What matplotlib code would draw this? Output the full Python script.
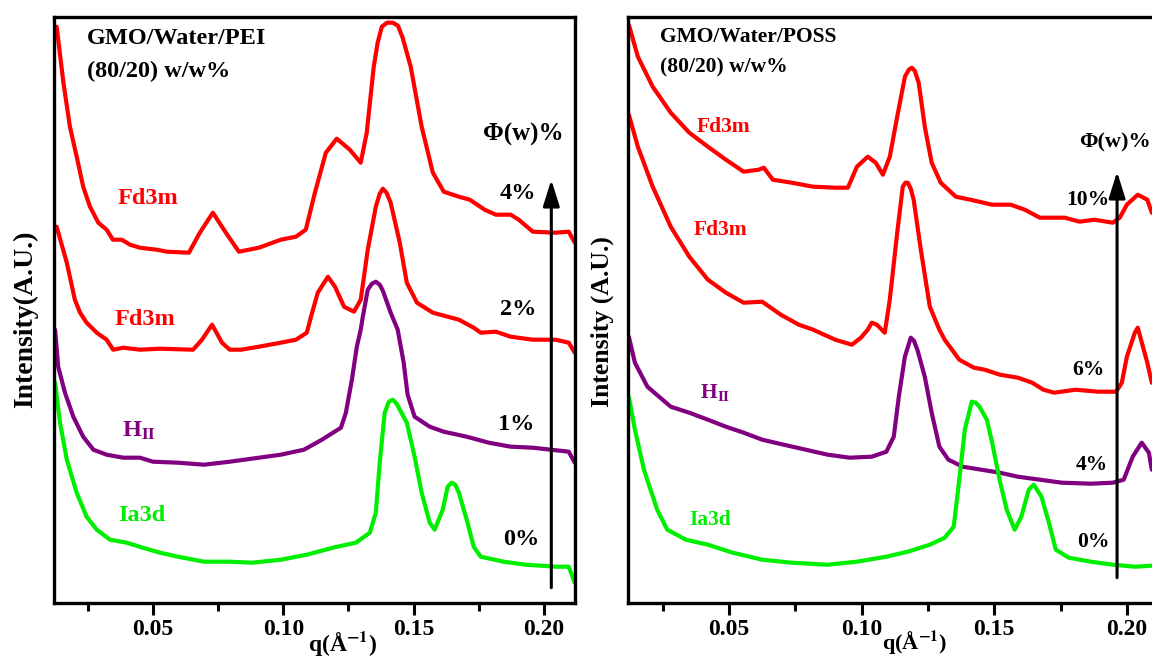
import matplotlib
matplotlib.use("Agg")
import matplotlib.pyplot as plt
from matplotlib.ticker import MultipleLocator, FormatStrFormatter

plt.rcParams["font.family"] = ["Liberation Serif", "DejaVu Serif"]
plt.rcParams["font.weight"] = "bold"
plt.rcParams["mathtext.fontset"] = "stix"

# ---------------- GMO/Water/PEI (80/20) ----------------
pei_q4 = [0.0129, 0.0155, 0.0180, 0.0206, 0.0231, 0.0257, 0.0289, 0.0321, 0.0345, 0.0379,
          0.0411, 0.0449, 0.0513, 0.0553, 0.0637, 0.0679, 0.0729, 0.0779, 0.0829, 0.0906,
          0.0990, 0.1048, 0.1086, 0.1121, 0.1163, 0.1205, 0.1255, 0.1297, 0.1320, 0.1347,
          0.1362, 0.1378, 0.1398, 0.1420, 0.1440, 0.1458, 0.1474, 0.1489, 0.1531, 0.1574,
          0.1616, 0.1674, 0.1716, 0.1773, 0.1816, 0.1873, 0.1904, 0.1958, 0.2046, 0.2096,
          0.2119]
pei_i4 = [576, 520, 476, 446, 416, 396, 380, 373, 363, 363,
          358, 355, 353, 351, 350, 370, 390, 370, 351, 355,
          363, 366, 373, 410, 450, 464, 453, 440, 470, 536,
          560, 576, 580, 580, 577, 565, 550, 536, 476, 430,
          411, 406, 403, 393, 388, 388, 383, 371, 370, 371,
          360]

pei_q2 = [0.0129, 0.0168, 0.0199, 0.0219, 0.0244, 0.0283, 0.0321, 0.0346, 0.0385, 0.0449,
          0.0526, 0.0653, 0.0687, 0.0726, 0.0764, 0.0794, 0.0837, 0.0906, 0.0990, 0.1048,
          0.1090, 0.1106, 0.1132, 0.1171, 0.1198, 0.1233, 0.1271, 0.1297, 0.1324, 0.1355,
          0.1370, 0.1382, 0.1396, 0.1412, 0.1447, 0.1474, 0.1513, 0.1574, 0.1674, 0.1731,
          0.1758, 0.1816, 0.1873, 0.1958, 0.2046, 0.2096, 0.2119]
pei_i2 = [376, 340, 303, 290, 280, 270, 263, 253, 255, 253,
          254, 253, 263, 278, 260, 253, 253, 256, 260, 263,
          270, 286, 310, 326, 316, 296, 291, 303, 353, 396,
          409, 414, 410, 400, 360, 320, 300, 290, 283, 275,
          270, 271, 266, 263, 263, 260, 250]

pei_q1 = [0.0123, 0.0135, 0.0161, 0.0193, 0.0231, 0.0270, 0.0321, 0.0385, 0.0449, 0.0499,
          0.0595, 0.0695, 0.0794, 0.0906, 0.0990, 0.1079, 0.1148, 0.1221, 0.1240, 0.1263,
          0.1282, 0.1297, 0.1305, 0.1324, 0.1340, 0.1355, 0.1370, 0.1382, 0.1412, 0.1439,
          0.1462, 0.1477, 0.1504, 0.1562, 0.1616, 0.1704, 0.1789, 0.1873, 0.1958, 0.2096,
          0.2119]
pei_i1 = [273, 236, 210, 186, 166, 153, 148, 145, 145, 141,
          140, 138, 141, 145, 148, 153, 163, 175, 190, 223,
          256, 273, 286, 313, 319, 321, 318, 312, 290, 273,
          240, 208, 186, 176, 171, 166, 160, 156, 155, 151,
          140]

pei_q0 = [0.0123, 0.0142, 0.0168, 0.0206, 0.0244, 0.0283, 0.0334, 0.0398, 0.0460, 0.0526,
          0.0595, 0.0695, 0.0794, 0.0879, 0.0990, 0.1090, 0.1190, 0.1278, 0.1332, 0.1355,
          0.1370, 0.1389, 0.1405, 0.1420, 0.1435, 0.1447, 0.1474, 0.1504, 0.1531, 0.1562,
          0.1581, 0.1612, 0.1631, 0.1646, 0.1660, 0.1674, 0.1704, 0.1731, 0.1758, 0.1846,
          0.1931, 0.2046, 0.2096, 0.2119]
pei_i0 = [220, 180, 143, 110, 86, 73, 63, 60, 55, 50,
          46, 41, 41, 40, 43, 48, 55, 60, 70, 90,
          140, 190, 201, 203, 199, 193, 180, 146, 110, 80,
          73, 93, 116, 120, 118, 110, 83, 56, 46, 41,
          38, 36, 36, 20]

# ---------------- GMO/Water/POSS (80/20) ----------------
poss_q10 = [0.0122, 0.0156, 0.0212, 0.0280, 0.0350, 0.0420, 0.0488, 0.0555, 0.0612, 0.0631,
            0.0665, 0.0736, 0.0817, 0.0900, 0.0948, 0.0982, 0.1023, 0.1053, 0.1080, 0.1106,
            0.1134, 0.1163, 0.1178, 0.1189, 0.1200, 0.1215, 0.1238, 0.1264, 0.1298, 0.1355,
            0.1410, 0.1491, 0.1562, 0.1615, 0.1672, 0.1766, 0.1822, 0.1877, 0.1947, 0.1973,
            0.2000, 0.2041, 0.2077, 0.2094]
poss_i10 = [578, 546, 516, 490, 470, 456, 443, 431, 433, 435,
            423, 420, 416, 415, 415, 436, 446, 440, 428, 446,
            486, 526, 533, 535, 532, 520, 476, 440, 420, 406,
            403, 398, 398, 393, 385, 385, 381, 383, 380, 385,
            398, 408, 403, 390]

poss_q6 = [0.0122, 0.0156, 0.0212, 0.0280, 0.0350, 0.0420, 0.0488, 0.0555, 0.0625, 0.0695,
           0.0763, 0.0817, 0.0900, 0.0963, 0.0997, 0.1023, 0.1038, 0.1057, 0.1087, 0.1106,
           0.1134, 0.1155, 0.1165, 0.1174, 0.1185, 0.1196, 0.1223, 0.1257, 0.1293, 0.1313,
           0.1368, 0.1423, 0.1464, 0.1521, 0.1589, 0.1643, 0.1685, 0.1726, 0.1807, 0.1890,
           0.1960, 0.1981, 0.2000, 0.2030, 0.2041, 0.2077, 0.2094]
poss_i6 = [488, 456, 416, 376, 346, 323, 310, 300, 301, 288,
           278, 273, 263, 258, 265, 273, 280, 278, 270, 303,
           370, 416, 420, 420, 414, 403, 353, 296, 273, 263,
           243, 235, 233, 228, 225, 220, 213, 210, 213, 211,
           211, 220, 246, 270, 275, 240, 220]

poss_q4 = [0.0122, 0.0145, 0.0192, 0.0280, 0.0350, 0.0420, 0.0488, 0.0555, 0.0625, 0.0706,
           0.0789, 0.0872, 0.0955, 0.1038, 0.1093, 0.1121, 0.1140, 0.1163, 0.1185, 0.1197,
           0.1210, 0.1238, 0.1264, 0.1293, 0.1327, 0.1381, 0.1451, 0.1521, 0.1589, 0.1672,
           0.1755, 0.1864, 0.1947, 0.1988, 0.2022, 0.2056, 0.2083, 0.2094]
poss_i4 = [266, 240, 216, 196, 190, 183, 176, 170, 163, 158,
           153, 148, 145, 146, 151, 166, 206, 246, 265, 262,
           253, 226, 190, 156, 143, 136, 133, 130, 126, 123,
           120, 119, 120, 123, 146, 160, 150, 133]

poss_q0 = [0.0122, 0.0145, 0.0179, 0.0229, 0.0267, 0.0337, 0.0420, 0.0514, 0.0625, 0.0735,
           0.0872, 0.0982, 0.1093, 0.1174, 0.1257, 0.1313, 0.1347, 0.1368, 0.1389, 0.1415,
           0.1430, 0.1444, 0.1472, 0.1492, 0.1520, 0.1547, 0.1577, 0.1602, 0.1630, 0.1649,
           0.1678, 0.1706, 0.1732, 0.1781, 0.1864, 0.1947, 0.2030, 0.2094]
poss_i0 = [206, 173, 133, 93, 73, 63, 58, 50, 43, 40,
           38, 41, 46, 51, 58, 65, 76, 123, 173, 201,
           200, 196, 183, 160, 123, 93, 73, 86, 113, 118,
           106, 80, 53, 45, 41, 38, 36, 37]

x_ticks = [0.05, 0.10, 0.15, 0.20]

RED = "#ff0000"
PURPLE = "#800080"
GREEN = "#00ee00"
LW = 3.0

W, H = 1152, 657


def box(left, top, right, bottom):
    return [left / W, 1 - bottom / H, (right - left) / W, (bottom - top) / H]


fig = plt.figure(figsize=(W / 100, H / 100), dpi=100)
ax1 = fig.add_axes(box(54.3, 16.7, 575, 602.7))
ax2 = fig.add_axes(box(628.3, 16.7, 1158.7, 602.7))

for ax in (ax1, ax2):
    ax.set_xlim(0.012, 0.212)
    ax.set_ylim(0, 586)
    ax.set_xticks(x_ticks)
    ax.xaxis.set_major_formatter(FormatStrFormatter("%.2f"))
    ax.xaxis.set_minor_locator(MultipleLocator(0.025))
    ax.set_yticks([])
    ax.tick_params(axis="x", which="major", direction="out", length=8.5,
                   width=2.2, pad=3, labelsize=17)
    ax.tick_params(axis="x", which="minor", direction="out", length=5.5,
                   width=2.2)
    for lab in ax.get_xticklabels():
        lab.set_fontweight("bold")
    for sp in ax.spines.values():
        sp.set_linewidth(2.4)

line_kw = dict(lw=LW, solid_joinstyle="round", solid_capstyle="round")

# left panel curves
ax1.plot(pei_q4, pei_i4, color=RED, **line_kw)
ax1.plot(pei_q2, pei_i2, color=RED, **line_kw)
ax1.plot(pei_q1, pei_i1, color=PURPLE, **line_kw)
ax1.plot(pei_q0, pei_i0, color=GREEN, **line_kw)

# right panel curves
ax2.plot(poss_q10, poss_i10, color=RED, **line_kw)
ax2.plot(poss_q6, poss_i6, color=RED, **line_kw)
ax2.plot(poss_q4, poss_i4, color=PURPLE, **line_kw)
ax2.plot(poss_q0, poss_i0, color=GREEN, **line_kw)

bold = dict(fontweight="bold")
arrow_kw = dict(arrowstyle="-|>,head_length=0.8,head_width=0.25",
                mutation_scale=20, color="black", lw=2.2, shrinkA=0, shrinkB=0)

# left panel annotations
ax1.text(0.0246, 564, "GMO/Water/PEI", fontsize=17.5, va="center", ha="left", **bold)
ax1.text(0.0246, 531, "(80/20) w/w%", fontsize=17.5, va="center", ha="left", **bold)
ax1.text(0.1923, 468, "\u03a6(w)%", fontsize=18, va="center", ha="center", **bold)
for q, i, s in [(0.1902, 409, "4%"), (0.1902, 293, "2%"),
                (0.1894, 178, "1%"), (0.1913, 63, "0%")]:
    ax1.text(q, i, s, fontsize=17.5, va="center", ha="center", **bold)
ax1.text(0.0364, 404, "Fd3m", color=RED, fontsize=17.5, va="center", ha="left", **bold)
ax1.text(0.0353, 283, "Fd3m", color=RED, fontsize=17.5, va="center", ha="left", **bold)
ax1.text(0.0379, 172, r"H$_{\mathbf{II}}$", color=PURPLE, fontsize=17.5,
         va="center", ha="left", **bold)
ax1.text(0.0364, 87, "Ia3d", color=GREEN, fontsize=17.5, va="center", ha="left", **bold)
ax1.annotate("", xy=(0.2029, 423), xytext=(0.2029, 15), arrowprops=arrow_kw)

# right panel annotations
ax2.text(0.0239, 566, "GMO/Water/POSS", fontsize=15.5, va="center", ha="left", **bold)
ax2.text(0.0239, 535, "(80/20) w/w%", fontsize=15.5, va="center", ha="left", **bold)
ax2.text(0.1819, 460, "\u03a6(w)%", fontsize=16, va="center", ha="left", **bold)
for q, i, s in [(0.1854, 403, "10%"), (0.1856, 233, "6%"),
                (0.1868, 138, "4%"), (0.1875, 61, "0%")]:
    ax2.text(q, i, s, fontsize=15.5, va="center", ha="center", **bold)
ax2.text(0.0378, 476, "Fd3m", color=RED, fontsize=15.5, va="center", ha="left", **bold)
ax2.text(0.0367, 373, "Fd3m", color=RED, fontsize=15.5, va="center", ha="left", **bold)
ax2.text(0.0389, 210, r"H$_{\mathbf{II}}$", color=PURPLE, fontsize=15.5,
         va="center", ha="left", **bold)
ax2.text(0.0350, 83, "Ia3d", color=GREEN, fontsize=15.5, va="center", ha="left", **bold)
ax2.annotate("", xy=(0.1963, 431), xytext=(0.1963, 25), arrowprops=arrow_kw)

# axis titles
fig.text(26 / W, 1 - 319 / H, "Intensity(A.U.)", rotation=90, fontsize=20,
         ha="center", va="center", **bold)
fig.text(602 / W, 1 - 322 / H, "Intensity (A.U.)", rotation=90, fontsize=18.5,
         ha="center", va="center", **bold)
fig.text(343 / W, 1 - 643 / H, r"q(Å$^{\mathbf{-1}}$)", fontsize=17,
         ha="center", va="center", **bold)
fig.text(915 / W, 1 - 643 / H, r"q(Å$^{\mathbf{-1}}$)", fontsize=16,
         ha="center", va="center", **bold)

fig.savefig("out.png", dpi=100)
